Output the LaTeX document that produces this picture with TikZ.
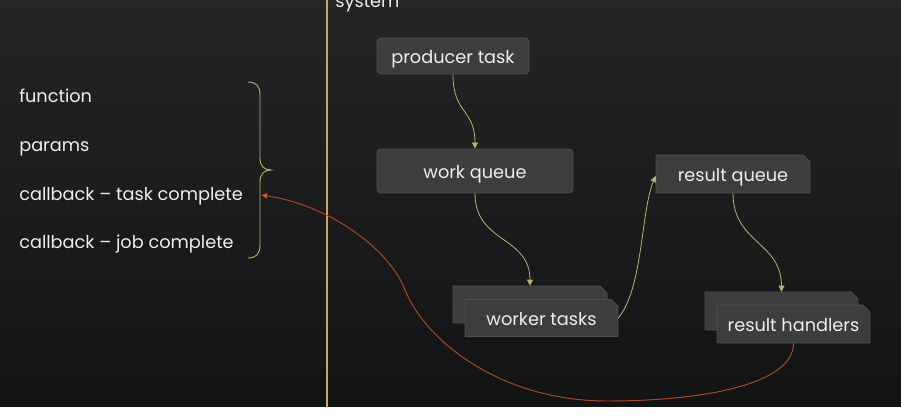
\documentclass[tikz,border=0pt]{standalone}
\usepackage{fontspec}
\setmainfont{Poppins}
\usetikzlibrary{arrows.meta}
\definecolor{bgtop}{HTML}{242527}
\definecolor{bgbot}{HTML}{121314}
\definecolor{boxfill}{HTML}{3D3D3D}
\definecolor{boxrim}{HTML}{4E4E4E}
\definecolor{txt}{HTML}{EEEEEE}
\definecolor{flowc}{HTML}{B9B26A}
\definecolor{redc}{HTML}{B24A22}
\definecolor{redtip}{HTML}{D85A28}
\definecolor{gold}{HTML}{C9A85C}
\tikzset{
  lbl/.style={text=txt, font=\fontsize{13.3}{16}\selectfont, inner sep=0pt},
  rbox/.style={fill=boxfill, draw=boxrim, line width=0.6pt, rounded corners=3pt, text=txt,
     font=\fontsize{13.3}{16}\selectfont, inner sep=0pt, text height=11pt, text depth=0pt},
  cbox/.style={text=txt, font=\fontsize{13.3}{16}\selectfont, inner sep=0pt,
     text height=11pt, text depth=0pt},
  flow/.style={draw=flowc, line width=0.6pt, -{Triangle[length=4.5pt,width=4.5pt]}},
  redflow/.style={draw=redc, line width=0.7pt, -{Latex[length=4.5pt,width=4.5pt,color=redtip]}},
  snipfill/.style={fill=boxfill, draw=boxrim, line width=0.6pt},
}
% \snipbox{name}{cx}{cy}{w}{h}{text}
\newcommand{\snipbox}[6]{%
  \path[snipfill] (#2-#4/2,#3+#5/2) -- (#2-#4/2,#3-#5/2) -- (#2+#4/2-7,#3-#5/2)
     -- (#2+#4/2,#3-#5/2+7) -- (#2+#4/2,#3+#5/2) -- cycle;
  \node[cbox, minimum width=#4*0.75pt, minimum height=#5*0.75pt] (#1) at (#2,#3) {#6};}
\begin{document}
\begin{tikzpicture}[x=0.75pt,y=-0.75pt]
\useasboundingbox (0,0) rectangle (901,417);
\fill[white] (0,0) rectangle (901,417);
\shade[top color=bgtop, bottom color=bgbot] (0,0) rectangle (901,407);

% divider
\draw[gold, line width=0.8pt] (327,0) -- (327,407);
\node[lbl, anchor=base west] (sys) at (335,8) {system};

% left list
\node[lbl, anchor=base west] (fn) at (19,103) {function};
\node[lbl, anchor=base west] (pa) at (19,152) {params};
\node[lbl, anchor=base west] (cbt) at (19,201) {callback – task complete};
\node[lbl, anchor=base west] (cbj) at (19,249) {callback – job complete};

% brace
\coordinate (brtop) at (248,82);
\coordinate (brbot) at (248,258);
\coordinate (brpt) at (271,170);
\coordinate (brtip) at (261,195);
\draw[flowc, line width=0.7pt] (brtop) .. controls (256,82) and (260,86) .. (260,95)
   -- (260,158) .. controls (260,166) and (264,170) .. (brpt)
   .. controls (264,170) and (260,174) .. (260,182)
   -- (260,245) .. controls (260,254) and (256,258) .. (brbot);

% boxes
\node[rbox, minimum width=152*0.75pt, minimum height=36*0.75pt] (prod) at (453,56) {producer task};
\node[rbox, minimum width=196*0.75pt, minimum height=44*0.75pt] (wq) at (475,171) {work queue};
\snipbox{rq}{733}{174}{154}{38}{result queue}
\snipbox{wb}{530}{304.5}{154}{37}{}
\snipbox{wf}{541.5}{318}{153}{37}{worker tasks}
\snipbox{hb}{781.5}{311}{153}{38}{}
\snipbox{hf}{793.5}{324}{153}{38}{result handlers}

% connectors
\draw[flow] (prod.south) .. controls +(0,40) and +(0,-40) .. (wq.north);
\draw[flow] (wq.south) .. controls +(0,50) and +(0,-50) .. (wb.north);
\draw[flow] (wf.east) .. controls +(25,-30) and +(-15,35) .. ([yshift=-1.5pt]rq.west);
\draw[flow] (rq.south) .. controls +(0,50) and +(0,-50) .. (hb.north);
\coordinate (low) at (607,401);
\coordinate (mid) at (405,290);
\draw[redflow] (hf.south) .. controls +(0,42) and +(93,0) .. (low)
   .. controls (500,401) and (425,340) .. (mid)
   .. controls (390,250) and (330,205) .. (brtip);
\end{tikzpicture}
\end{document}
